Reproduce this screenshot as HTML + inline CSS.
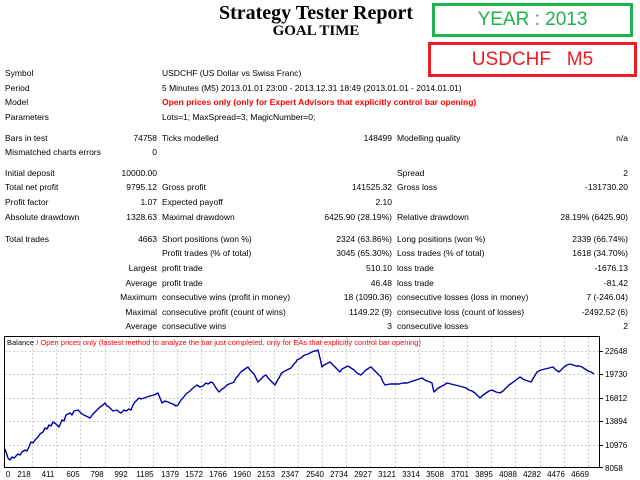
<!DOCTYPE html>
<html><head><meta charset="utf-8"><style>
body{margin:0;width:640px;height:480px;background:#fff;position:relative;overflow:hidden;font-family:"Liberation Sans",sans-serif;font-size:8.5px;color:#000}
.t{position:absolute;white-space:nowrap;line-height:10px}
.r{text-align:right}
</style></head><body>
<div class="t" style="left:0;width:632px;top:3px;text-align:center;font:bold 20px 'Liberation Serif',serif;line-height:20px">Strategy Tester Report</div>
<div class="t" style="left:0;width:632px;top:23px;text-align:center;font:bold 15px 'Liberation Serif',serif;line-height:16px">GOAL TIME</div>
<div style="position:absolute;left:432px;top:3px;width:195px;height:28px;border:3px solid #22b14c;color:#22b14c;font-size:19px;line-height:28px;text-align:center">YEAR : 2013</div>
<div style="position:absolute;left:428px;top:42px;width:203px;height:29px;border:3px solid #ed1c24;color:#ed1c24;font-size:19px;line-height:29px;text-align:center">USDCHF&nbsp;&nbsp; M5</div>

<div class="t" style="left:5px;top:68px">Symbol</div><div class="t" style="left:162px;top:68px">USDCHF (US Dollar vs Swiss Franc)</div>
<div class="t" style="left:5px;top:83px">Period</div><div class="t" style="left:162px;top:83px">5 Minutes (M5) 2013.01.01 23:00 - 2013.12.31 18:49 (2013.01.01 - 2014.01.01)</div>
<div class="t" style="left:5px;top:97px">Model</div><div class="t" style="left:162px;top:97px;color:#f00;font-weight:bold">Open prices only (only for Expert Advisors that explicitly control bar opening)</div>
<div class="t" style="left:5px;top:112px">Parameters</div><div class="t" style="left:162px;top:112px">Lots=1; MaxSpread=3; MagicNumber=0;</div>

<div class="t" style="left:5px;top:133px">Bars in test</div><div class="t r" style="right:483px;top:133px">74758</div><div class="t" style="left:162px;top:133px">Ticks modelled</div><div class="t r" style="right:248px;top:133px">148499</div><div class="t" style="left:397px;top:133px">Modelling quality</div><div class="t r" style="right:12px;top:133px">n/a</div>
<div class="t" style="left:5px;top:147px">Mismatched charts errors</div><div class="t r" style="right:483px;top:147px">0</div>

<div class="t" style="left:5px;top:168px">Initial deposit</div><div class="t r" style="right:483px;top:168px">10000.00</div><div class="t" style="left:397px;top:168px">Spread</div><div class="t r" style="right:12px;top:168px">2</div>
<div class="t" style="left:5px;top:182px">Total net profit</div><div class="t r" style="right:483px;top:182px">9795.12</div><div class="t" style="left:162px;top:182px">Gross profit</div><div class="t r" style="right:248px;top:182px">141525.32</div><div class="t" style="left:397px;top:182px">Gross loss</div><div class="t r" style="right:12px;top:182px">-131730.20</div>
<div class="t" style="left:5px;top:197px">Profit factor</div><div class="t r" style="right:483px;top:197px">1.07</div><div class="t" style="left:162px;top:197px">Expected payoff</div><div class="t r" style="right:248px;top:197px">2.10</div>
<div class="t" style="left:5px;top:212px">Absolute drawdown</div><div class="t r" style="right:483px;top:212px">1328.63</div><div class="t" style="left:162px;top:212px">Maximal drawdown</div><div class="t r" style="right:248px;top:212px">6425.90 (28.19%)</div><div class="t" style="left:397px;top:212px">Relative drawdown</div><div class="t r" style="right:12px;top:212px">28.19% (6425.90)</div>

<div class="t" style="left:5px;top:234px">Total trades</div><div class="t r" style="right:483px;top:234px">4663</div><div class="t" style="left:162px;top:234px">Short positions (won %)</div><div class="t r" style="right:248px;top:234px">2324 (63.86%)</div><div class="t" style="left:397px;top:234px">Long positions (won %)</div><div class="t r" style="right:12px;top:234px">2339 (66.74%)</div>
<div class="t" style="left:162px;top:248px">Profit trades (% of total)</div><div class="t r" style="right:248px;top:248px">3045 (65.30%)</div><div class="t" style="left:397px;top:248px">Loss trades (% of total)</div><div class="t r" style="right:12px;top:248px">1618 (34.70%)</div>
<div class="t r" style="right:483px;top:263px">Largest</div><div class="t" style="left:162px;top:263px">profit trade</div><div class="t r" style="right:248px;top:263px">510.10</div><div class="t" style="left:397px;top:263px">loss trade</div><div class="t r" style="right:12px;top:263px">-1676.13</div>
<div class="t r" style="right:483px;top:278px">Average</div><div class="t" style="left:162px;top:278px">profit trade</div><div class="t r" style="right:248px;top:278px">46.48</div><div class="t" style="left:397px;top:278px">loss trade</div><div class="t r" style="right:12px;top:278px">-81.42</div>
<div class="t r" style="right:483px;top:292px">Maximum</div><div class="t" style="left:162px;top:292px">consecutive wins (profit in money)</div><div class="t r" style="right:248px;top:292px">18 (1090.36)</div><div class="t" style="left:397px;top:292px">consecutive losses (loss in money)</div><div class="t r" style="right:12px;top:292px">7 (-246.04)</div>
<div class="t r" style="right:483px;top:307px">Maximal</div><div class="t" style="left:162px;top:307px">consecutive profit (count of wins)</div><div class="t r" style="right:248px;top:307px">1149.22 (9)</div><div class="t" style="left:397px;top:307px">consecutive loss (count of losses)</div><div class="t r" style="right:12px;top:307px">-2492.52 (6)</div>
<div class="t r" style="right:483px;top:321px">Average</div><div class="t" style="left:162px;top:321px">consecutive wins</div><div class="t r" style="right:248px;top:321px">3</div><div class="t" style="left:397px;top:321px">consecutive losses</div><div class="t r" style="right:12px;top:321px">2</div>

<svg style="position:absolute;left:0;top:0" width="640" height="480">
<g stroke="#d0d0d0" stroke-dasharray="2,2" stroke-width="1">
<line x1="5" x2="599" y1="351.5" y2="351.5"/><line x1="5" x2="599" y1="374.5" y2="374.5"/><line x1="5" x2="599" y1="398.5" y2="398.5"/><line x1="5" x2="599" y1="421.5" y2="421.5"/><line x1="5" x2="599" y1="445.5" y2="445.5"/>
<line x1="32.5" x2="32.5" y1="337" y2="467"/><line x1="56.5" x2="56.5" y1="337" y2="467"/><line x1="80.5" x2="80.5" y1="337" y2="467"/><line x1="105.5" x2="105.5" y1="337" y2="467"/><line x1="129.5" x2="129.5" y1="337" y2="467"/><line x1="153.5" x2="153.5" y1="337" y2="467"/><line x1="177.5" x2="177.5" y1="337" y2="467"/><line x1="201.5" x2="201.5" y1="337" y2="467"/><line x1="225.5" x2="225.5" y1="337" y2="467"/><line x1="250.5" x2="250.5" y1="337" y2="467"/><line x1="274.5" x2="274.5" y1="337" y2="467"/><line x1="298.5" x2="298.5" y1="337" y2="467"/><line x1="322.5" x2="322.5" y1="337" y2="467"/><line x1="346.5" x2="346.5" y1="337" y2="467"/><line x1="370.5" x2="370.5" y1="337" y2="467"/><line x1="395.5" x2="395.5" y1="337" y2="467"/><line x1="419.5" x2="419.5" y1="337" y2="467"/><line x1="443.5" x2="443.5" y1="337" y2="467"/><line x1="467.5" x2="467.5" y1="337" y2="467"/><line x1="491.5" x2="491.5" y1="337" y2="467"/><line x1="515.5" x2="515.5" y1="337" y2="467"/><line x1="540.5" x2="540.5" y1="337" y2="467"/><line x1="564.5" x2="564.5" y1="337" y2="467"/><line x1="588.5" x2="588.5" y1="337" y2="467"/>
</g>
<rect x="4.5" y="336.5" width="595" height="131" fill="none" stroke="#000"/>
<g stroke="#000"><line x1="600" x2="603" y1="351.5" y2="351.5"/><line x1="600" x2="603" y1="374.5" y2="374.5"/><line x1="600" x2="603" y1="398.5" y2="398.5"/><line x1="600" x2="603" y1="421.5" y2="421.5"/><line x1="600" x2="603" y1="445.5" y2="445.5"/><line x1="600" x2="603" y1="467.5" y2="467.5"/></g>
<polyline fill="none" stroke="#0000a8" stroke-width="1.4" stroke-linejoin="round" points="5,449 6,452 8,458 10,460 12,457 14,458 18,454 20,455 22,452 25,450 27,451 28,449 31,442 33,443 35,440 38,437 40,434 43,432 45,428 47,429 49,425 51,426 53,422 56,424 59,427 62,420 64,421 66,415 70,413 72,415 74,411 78,410 80,412 82,414 86,416 90,418 93,414 95,412 98,409 100,407 103,405 105,403 107,406 109,407 111,409 113,411 117,410 119,412 121,413 124,410 126,411 129,409 131,410 133,405 135,402 137,400 139,398 141,399 144,398 147,397 150,396 154,395 158,393 160,398 162,403 165,401 168,402 170,403 173,404 176,406 178,405 181,400 183,398 186,394 190,391 193,388 197,385 200,387 203,386 206,383 208,384 211,382 213,383 216,388 219,392 222,389 224,388 227,385 229,384 232,383 234,382 236,378 238,376 240,373 242,371 245,369 248,367 250,370 252,372 254,374 255,376 258,382 260,380 262,378 264,376 266,375 268,378 270,380 273,383 275,385 277,381 279,378 281,374 283,372 285,371 287,370 289,369 291,368 294,364 296,362 297,360 299,359 301,358 303,356 305,355 308,354 310,353 312,352 314,351 316,351 318,350 320,358 322,367 324,365 326,364 328,363 330,362 333,365 335,367 338,370 340,372 342,369 344,368 346,367 348,366 351,368 354,370 357,373 361,375 364,372 366,370 369,368 371,367 374,370 376,372 379,375 381,377 383,382 385,385 390,384 395,384 399,384 403,383 407,383 410,382 413,381 416,380 419,379 422,378 425,380 427,381 430,382 432,383 433,388 434,392 437,389 440,387 444,385 447,383 451,384 455,385 459,386 463,387 466,388 469,390 472,391 475,393 478,396 480,398 483,395 486,393 489,391 492,390 496,392 500,393 503,391 506,388 509,385 512,383 516,380 520,377 523,379 525,380 528,381 531,382 534,377 537,372 541,370 545,369 549,368 553,367 556,370 559,372 562,369 564,367 567,365 570,364 573,365 576,366 579,366 582,367 585,369 588,371 591,372 594,374"/>
<g font-family="Liberation Sans,sans-serif" font-size="8" fill="#000">
<text x="605" y="354">22648</text><text x="605" y="377">19730</text><text x="605" y="401">16812</text><text x="605" y="424">13894</text><text x="605" y="448">10976</text><text x="605" y="471">8058</text>
<g text-anchor="middle">
<text x="8" y="477">0</text><text x="24" y="477">218</text><text x="48" y="477">411</text><text x="73" y="477">605</text><text x="97" y="477">798</text><text x="121" y="477">992</text><text x="145" y="477">1185</text><text x="170" y="477">1379</text><text x="194" y="477">1572</text><text x="218" y="477">1766</text><text x="242" y="477">1960</text><text x="266" y="477">2153</text><text x="290" y="477">2347</text><text x="315" y="477">2540</text><text x="339" y="477">2734</text><text x="363" y="477">2927</text><text x="387" y="477">3121</text><text x="411" y="477">3314</text><text x="435" y="477">3508</text><text x="460" y="477">3701</text><text x="484" y="477">3895</text><text x="508" y="477">4088</text><text x="532" y="477">4282</text><text x="556" y="477">4476</text><text x="580" y="477">4669</text>
</g>
<text x="7" y="345" font-size="7.5">Balance <tspan fill="#f00">/ Open prices only (fastest method to analyze the bar just completed, only for EAs that explicitly control bar opening)</tspan></text>
</g>
</svg>
</body></html>
